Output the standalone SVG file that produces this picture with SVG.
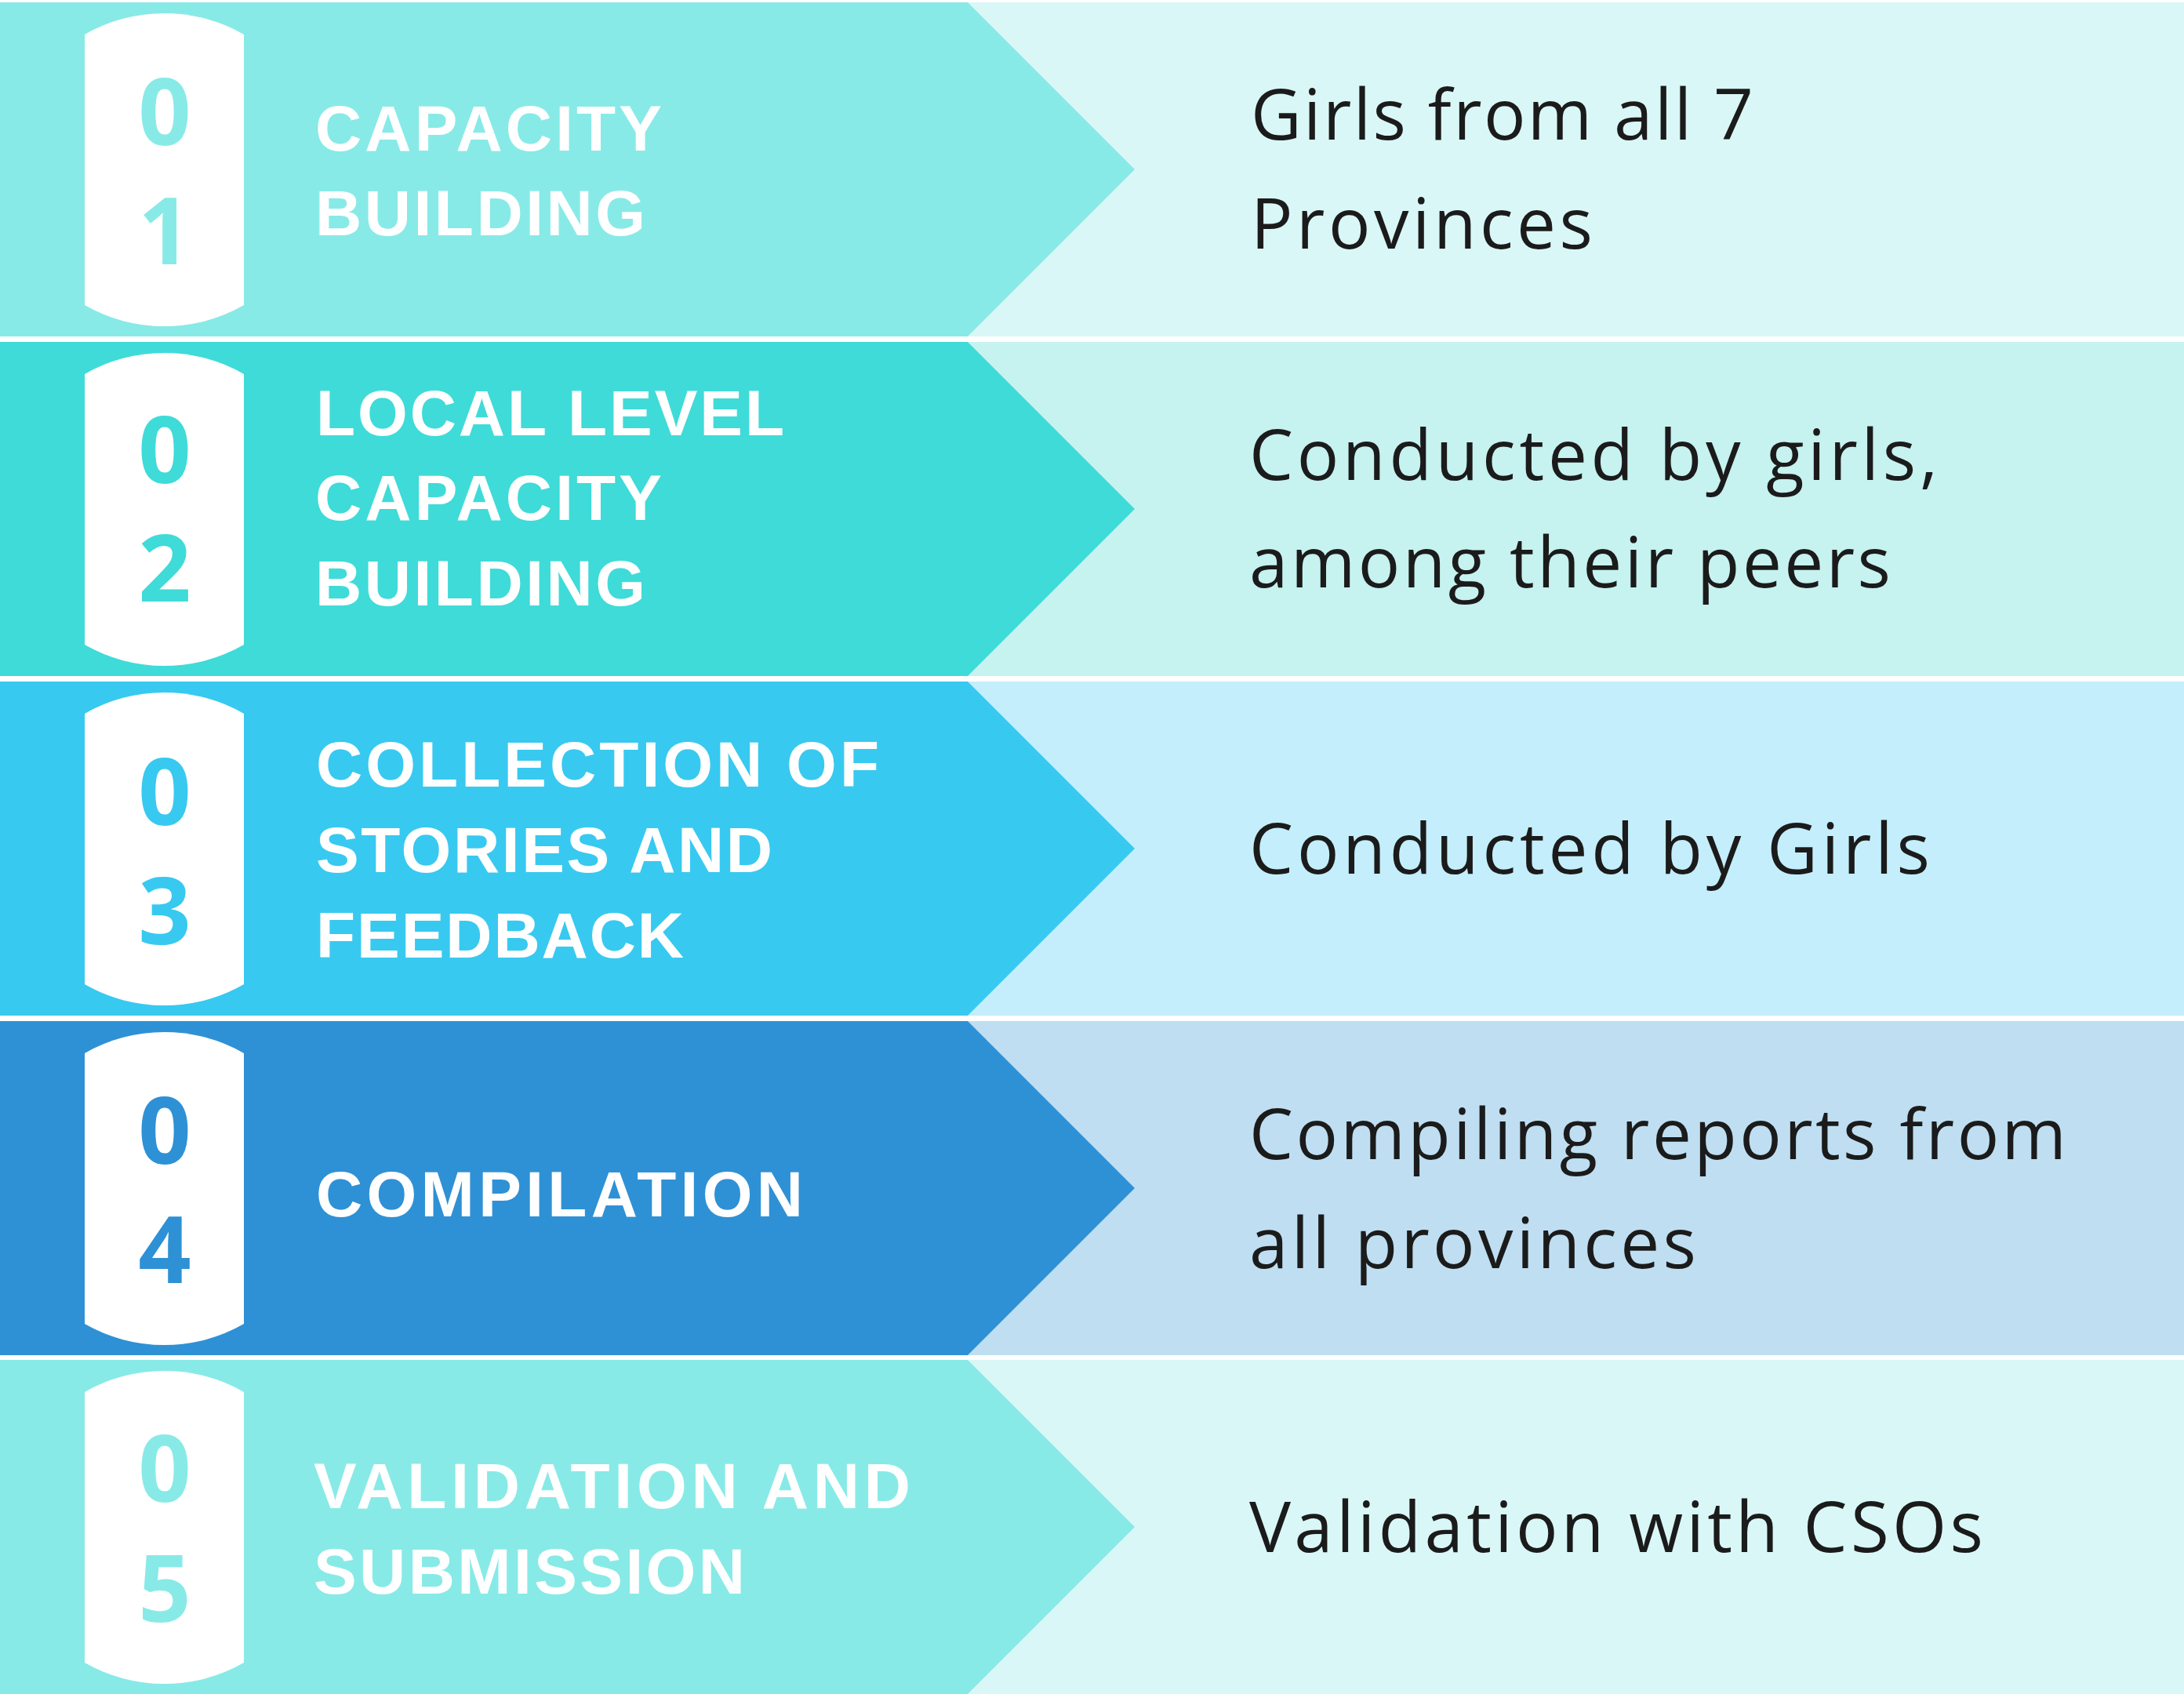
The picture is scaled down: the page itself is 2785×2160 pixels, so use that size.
<svg xmlns="http://www.w3.org/2000/svg" width="2785" height="2160" viewBox="0 0 2785 2160">
<style>
.head{font-family:"Liberation Sans",Arial,sans-serif;font-weight:bold;font-size:82px;fill:#ffffff}
.num{font-family:"Open Sans","Liberation Sans",Arial,sans-serif;font-weight:bold;font-size:118px;text-anchor:middle}
.desc{font-family:"Open Sans","Liberation Sans",Arial,sans-serif;font-size:89px;fill:#1b1b1b}
.pill{fill:#ffffff}
</style>
<defs>
<path id="pill" d="M108,41 A204,204 0 0 1 311,41 L311,386 A204,204 0 0 1 108,386 Z"/>
<path id="chev" d="M0,0 L1234,0 L1447,213 L1234,426 L0,426 Z"/>
</defs>
<rect x="0" y="0" width="2785" height="2160" fill="#ffffff"/>

<g id="step1" transform="translate(0,3)">
<rect x="1234" y="0" width="1551" height="426" fill="#D9F7F6"/>
<use href="#chev" fill="#88EAE7"/>
<use href="#pill" class="pill"/>
<text class="num" x="210" y="182" fill="#88EAE7">0</text>
<text class="num" x="210" y="334" fill="#88EAE7">1</text>
<text class="head" x="402" y="189" textLength="442" lengthAdjust="spacing">CAPACITY</text>
<text class="head" x="402" y="297" textLength="421" lengthAdjust="spacing">BUILDING</text>
<text class="desc" x="1595" y="175" textLength="641" lengthAdjust="spacing">Girls from all 7</text>
<text class="desc" x="1595" y="314" textLength="436" lengthAdjust="spacing">Provinces</text>
</g>

<g id="step2" transform="translate(0,436)">
<rect x="1234" y="0" width="1551" height="426" fill="#C6F2F0"/>
<use href="#chev" fill="#3FDBD8"/>
<use href="#pill" class="pill"/>
<text class="num" x="210" y="180" fill="#3FDBD8">0</text>
<text class="num" x="210" y="331" fill="#3FDBD8">2</text>
<text class="head" x="403" y="119" textLength="597" lengthAdjust="spacing">LOCAL LEVEL</text>
<text class="head" x="402" y="227" textLength="442" lengthAdjust="spacing">CAPACITY</text>
<text class="head" x="402" y="336" textLength="421" lengthAdjust="spacing">BUILDING</text>
<text class="desc" x="1593" y="176" textLength="878" lengthAdjust="spacing">Conducted by girls,</text>
<text class="desc" x="1593" y="313" textLength="818" lengthAdjust="spacing">among their peers</text>
</g>

<g id="step3" transform="translate(0,869)">
<rect x="1234" y="0" width="1551" height="426" fill="#C4EEFB"/>
<use href="#chev" fill="#38C9F0"/>
<use href="#pill" class="pill"/>
<text class="num" x="210" y="183" fill="#38C9F0">0</text>
<text class="num" x="210" y="335" fill="#38C9F0">3</text>
<text class="head" x="403" y="134" textLength="718" lengthAdjust="spacing">COLLECTION OF</text>
<text class="head" x="403" y="243" textLength="582" lengthAdjust="spacing">STORIES AND</text>
<text class="head" x="403" y="352" textLength="469" lengthAdjust="spacing">FEEDBACK</text>
<text class="desc" x="1593" y="245" textLength="868" lengthAdjust="spacing">Conducted by Girls</text>
</g>

<g id="step4" transform="translate(0,1302)">
<rect x="1234" y="0" width="1551" height="426" fill="#BFDEF1"/>
<use href="#chev" fill="#2E91D5"/>
<use href="#pill" class="pill"/>
<text class="num" x="210" y="182" fill="#2E91D5">0</text>
<text class="num" x="210" y="334" fill="#2E91D5">4</text>
<text class="head" x="403" y="249" textLength="621" lengthAdjust="spacing">COMPILATION</text>
<text class="desc" x="1593" y="176" textLength="1042" lengthAdjust="spacing">Compiling reports from</text>
<text class="desc" x="1593" y="315" textLength="570" lengthAdjust="spacing">all provinces</text>
</g>

<g id="step5" transform="translate(0,1734)">
<rect x="1234" y="0" width="1551" height="426" fill="#D9F7F6"/>
<use href="#chev" fill="#88EAE7"/>
<use href="#pill" class="pill"/>
<text class="num" x="210" y="181" fill="#88EAE7">0</text>
<text class="num" x="210" y="334" fill="#88EAE7">5</text>
<text class="head" x="400" y="189" textLength="761" lengthAdjust="spacing">VALIDATION AND</text>
<text class="head" x="400" y="298" textLength="550" lengthAdjust="spacing">SUBMISSION</text>
<text class="desc" x="1593" y="245" textLength="936" lengthAdjust="spacing">Validation with CSOs</text>
</g>
</svg>
